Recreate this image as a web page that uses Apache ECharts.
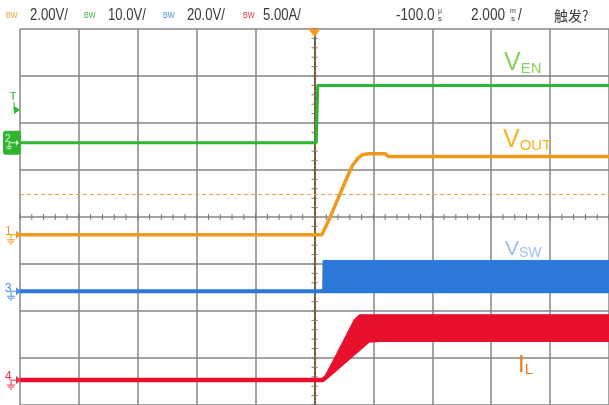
<!DOCTYPE html>
<html><head><meta charset="utf-8">
<script src="https://cdn.jsdelivr.net/npm/echarts@6/dist/echarts.min.js"></script>
<style>html,body{margin:0;padding:0;background:#fff}#c{width:609px;height:405px}</style>
</head><body><div id="c"></div><script>
// Horizontal: 2 ms/div, 10 divisions, trigger at t = 0
const timeRange = [-10, 10];
const timeStep = 2;
const divCount = 8;
const minorPerDiv = 5;

// Channel scales (units per division) and ground marker levels (divisions above bottom)
const ch1Scale = 2,  ch1Ground = 3.62;  // VOUT, V
const ch2Scale = 10, ch2Ground = 5.58;  // VEN, V
const ch3Scale = 20, ch3Ground = 2.42;  // VSW, V
const ch4Scale = 5,  ch4Ground = 0.53;  // IL, A

// Trigger levels
const ch1TrigLevel = 1.73;   // V, dashed line
const ch2TrigLevel = 6.95;   // V, "T" marker

// VEN (enable) step
const venT = [-10, 0.06, 0.11, 10];
const venV = [0, 0, 12.2, 12.2];

// VOUT soft-start ramp
const voutT = [-10, 0.25, 0.52, 1.09, 1.29, 1.46, 1.63, 1.83, 2.40, 2.50, 10];
const voutV = [0, 0, 0.72, 2.40, 2.95, 3.24, 3.41, 3.45, 3.45, 3.33, 3.33];

// VSW switching envelope (lower / upper)
const vswT    = [-10, 0.28, 0.29, 10];
const vswLow  = [0, 0, 0, 0];
const vswHigh = [0, 0, 13.1, 13.1];

// IL ripple envelope (lower / upper)
const ilT    = [-10, 0.28, 0.60, 1.00, 1.36, 1.53, 1.83, 2.20, 10];
const ilLow  = [0, 0, 0.85, 1.94, 2.92, 3.38, 4.20, 4.30, 4.30];
const ilHigh = [0, 0, 1.88, 4.31, 6.50, 6.95, 6.95, 6.95, 6.95];

const C = {green:'#2fb52f', orange:'#ee9a1e', blue:'#2b78d8', red:'#e8102c'};

const toDiv = (g, s) => v => g + v / s;
const pairs = (ts, vs, f) => ts.map((t, i) => [t, f(vs[i])]);

// filled envelope between lower and upper traces
function envelopeSeries(name, ts, lows, highs, f, color) {
  return {
    name: name, type:'custom', z:3, silent:true,
    data: ts.map((t, i) => [t, f(lows[i]), f(highs[i])]),
    encode: {x:0, y:[1, 2]},
    renderItem: function (params, api) {
      if (params.dataIndex !== 0) return null;
      const pts = [];
      for (let i = 0; i < ts.length; i++) pts.push(api.coord([ts[i], f(highs[i])]));
      for (let i = ts.length - 1; i >= 0; i--) pts.push(api.coord([ts[i], f(lows[i])]));
      return {type:'polygon', shape:{points:pts}, style:{fill:color, stroke:color, lineWidth:1}};
    }
  };
}

const chart = echarts.init(document.getElementById('c'), null, {renderer:'canvas'});

const gridLine = {color:'#868686', width:1.5};
const f1 = toDiv(ch1Ground, ch1Scale), f2 = toDiv(ch2Ground, ch2Scale),
      f3 = toDiv(ch3Ground, ch3Scale), f4 = toDiv(ch4Ground, ch4Scale);
const option = {
  animation:false,
  backgroundColor:'#ffffff',
  grid:{left:20, top:29, width:595, height:380},
  xAxis:{type:'value', min:timeRange[0], max:timeRange[1], interval:timeStep,
     axisLine:{show:false}, axisTick:{show:false}, axisLabel:{show:false},
     splitLine:{show:true, lineStyle:gridLine}},
  yAxis:{type:'value', min:0, max:divCount, interval:1,
     axisLine:{show:true, lineStyle:{color:'#7a5530', width:2, type:[3,2]}},
     axisTick:{show:false}, axisLabel:{show:false},
     splitLine:{show:true, lineStyle:gridLine}},
  series:[
    {name:'VEN', type:'line', showSymbol:false, data:pairs(venT, venV, f2),
     lineStyle:{color:C.green, width:3}, z:3},
    {name:'VOUT', type:'line', showSymbol:false, data:pairs(voutT, voutV, f1),
     lineStyle:{color:C.orange, width:3.5}, z:3,
     markLine:{silent:true, symbol:'none', label:{show:false},
       lineStyle:{color:'#f3a43a', width:1, type:[4,3]},
       data:[{yAxis: f1(ch1TrigLevel)}]}},
    {name:'VSW', type:'line', showSymbol:false, data:pairs(vswT, vswLow, f3),
     lineStyle:{color:C.blue, width:4}, z:3},
    envelopeSeries('VSW band', vswT, vswLow, vswHigh, f3, C.blue),
    {name:'IL', type:'line', showSymbol:false, data:pairs(ilT, ilLow, f4),
     lineStyle:{color:C.red, width:4.5}, z:3},
    envelopeSeries('IL band', ilT, ilLow, ilHigh, f4, C.red)
  ]
};
chart.setOption(option);

// ---- annotations ----
const px = (t, d) => chart.convertToPixel({gridIndex:0}, [t, d]);
const FONT = '"Liberation Sans", Arial, sans-serif';
const g = [];

// centre graticule minor ticks
const tickStyle = {stroke:'#777', lineWidth:1};
const nX = (timeRange[1] - timeRange[0]) / timeStep * minorPerDiv;
for (let i = 0; i <= nX; i++) {
  const p = px(timeRange[0] + i * timeStep / minorPerDiv, divCount / 2);
  g.push({type:'line', shape:{x1:p[0], y1:p[1]-3, x2:p[0], y2:p[1]+3}, style:tickStyle, z:1, silent:true});
}
for (let j = 0; j <= divCount * minorPerDiv; j++) {
  const p = px(0, j / minorPerDiv);
  g.push({type:'line', shape:{x1:p[0]-3, y1:p[1], x2:p[0]+3, y2:p[1]}, style:tickStyle, z:1, silent:true});
}

// header
function hText(x, text, color, size, sx) {
  g.push({type:'text', x:x, y:16, scaleX:sx, style:{text:text, fill:color, font:size + 'px ' + FONT, verticalAlign:'middle'}});
}
hText(6, 'BW', '#f0a030', 9, 0.8);  hText(30, '2.00V/', '#3a3a3a', 16, 0.82);
hText(84, 'BW', '#3cae3c', 9, 0.8); hText(108, '10.0V/', '#3a3a3a', 16, 0.82);
hText(163, 'BW', '#4a8ee0', 9, 0.8); hText(187, '20.0V/', '#3a3a3a', 16, 0.82);
hText(243, 'BW', '#e0304a', 9, 0.8); hText(263, '5.00A/', '#3a3a3a', 16, 0.82);
hText(396, '-100.0', '#3a3a3a', 16, 0.85);
g.push({type:'text', x:438, y:11, style:{text:'μ', fill:'#3a3a3a', font:'7px ' + FONT, verticalAlign:'middle'}});
g.push({type:'text', x:438, y:19, style:{text:'s', fill:'#3a3a3a', font:'8px ' + FONT, verticalAlign:'middle'}});
hText(471, '2.000', '#3a3a3a', 16, 0.85);
g.push({type:'text', x:510, y:11, style:{text:'m', fill:'#3a3a3a', font:'7px ' + FONT, verticalAlign:'middle'}});
g.push({type:'text', x:511, y:19, style:{text:'s', fill:'#3a3a3a', font:'8px ' + FONT, verticalAlign:'middle'}});
hText(518, '/', '#3a3a3a', 16, 0.85);
g.push({type:'text', x:554, y:16, style:{text:'触发?', fill:'#3a3a3a', font:'14px "Noto Sans CJK SC", sans-serif', verticalAlign:'middle'}});

// trigger position marker
const trig = px(0, divCount);
g.push({type:'polygon', shape:{points:[[trig[0]-6, trig[1]], [trig[0]+6, trig[1]], [trig[0], trig[1]+8]]}, style:{fill:'#f39a1a'}, z:10});

// channel ground markers
function groundMark(label, color, d, boxed) {
  const p = px(timeRange[0], d);
  const y = p[1], x = p[0];
  if (boxed) {
    const w = '#d8f5d0';
    g.push({type:'rect', shape:{x:x-17, y:y-12, width:18, height:24, r:3}, style:{fill:color}, z:10});
    g.push({type:'text', x:x-15, y:y-3, style:{text:label, fill:w, font:'10px ' + FONT, verticalAlign:'middle'}, z:11});
    g.push({type:'polyline', shape:{points:[[x-11, y], [x-3, y]]}, style:{stroke:w, lineWidth:1}, z:11});
    g.push({type:'polygon', shape:{points:[[x-4, y-3], [x-1, y], [x-4, y+3]]}, style:{fill:w}, z:11});
    g.push({type:'polyline', shape:{points:[[x-11, y], [x-11, y+4]]}, style:{stroke:w, lineWidth:1}, z:11});
    g.push({type:'polyline', shape:{points:[[x-14, y+4], [x-8, y+4]]}, style:{stroke:w, lineWidth:1}, z:11});
    g.push({type:'polyline', shape:{points:[[x-13, y+6], [x-9, y+6]]}, style:{stroke:w, lineWidth:1}, z:11});
    return;
  }
  g.push({type:'text', x:x-15, y:y-3, style:{text:label, fill:color, font:'12px ' + FONT, verticalAlign:'middle'}, z:10});
  g.push({type:'polyline', shape:{points:[[x-9, y], [x-2, y]]}, style:{stroke:color, lineWidth:1}, z:10});
  g.push({type:'polygon', shape:{points:[[x-4, y-4], [x+1, y], [x-4, y+4]]}, style:{fill:color}, z:10});
  g.push({type:'polyline', shape:{points:[[x-9, y], [x-9, y+5]]}, style:{stroke:color, lineWidth:1}, z:10});
  g.push({type:'polyline', shape:{points:[[x-13, y+5], [x-5, y+5]]}, style:{stroke:color, lineWidth:1}, z:10});
  g.push({type:'polyline', shape:{points:[[x-12, y+7], [x-6, y+7]]}, style:{stroke:color, lineWidth:1}, z:10});
  g.push({type:'polyline', shape:{points:[[x-10, y+9], [x-8, y+9]]}, style:{stroke:color, lineWidth:1}, z:10});
}
groundMark('2', C.green, ch2Ground, true);
groundMark('1', C.orange, ch1Ground, false);
groundMark('3', '#4a8ee0', ch3Ground, false);
groundMark('4', '#e8304a', ch4Ground, false);

// channel 2 trigger level marker
(function () {
  const p = px(timeRange[0], f2(ch2TrigLevel));
  g.push({type:'text', x:p[0]-7, y:p[1]-13, style:{text:'T', fill:C.green, font:'11px ' + FONT, align:'center', verticalAlign:'middle'}, z:10});
  g.push({type:'polyline', shape:{points:[[p[0]-6, p[1]-8], [p[0]-6, p[1]]]}, style:{stroke:C.green, lineWidth:1}, z:10});
  g.push({type:'polygon', shape:{points:[[p[0]-6, p[1]-4], [p[0], p[1]], [p[0]-6, p[1]+4]]}, style:{fill:C.green}, z:10});
})();

// signal names
function sigLabel(x, yBottom, main, sub, color, big, small) {
  g.push({type:'text', x:x, y:yBottom, z:12, style:{
    text:'{a|' + main + '}{b|' + sub + '}', verticalAlign:'bottom',
    rich:{a:{fill:color, font:big + 'px ' + FONT, verticalAlign:'bottom'},
          b:{fill:color, font:small + 'px ' + FONT, verticalAlign:'bottom'}}}});
}
sigLabel(504, 76, 'V', 'EN', '#8ccf5a', 25, 15);
sigLabel(503, 153, 'V', 'OUT', '#f8b31a', 25, 15);
sigLabel(505, 260, 'V', 'SW', '#9bc2e8', 21, 14);
sigLabel(518, 377, 'I', 'L', '#f07c1e', 24, 15);

chart.setOption({graphic:g});
</script></body></html>
